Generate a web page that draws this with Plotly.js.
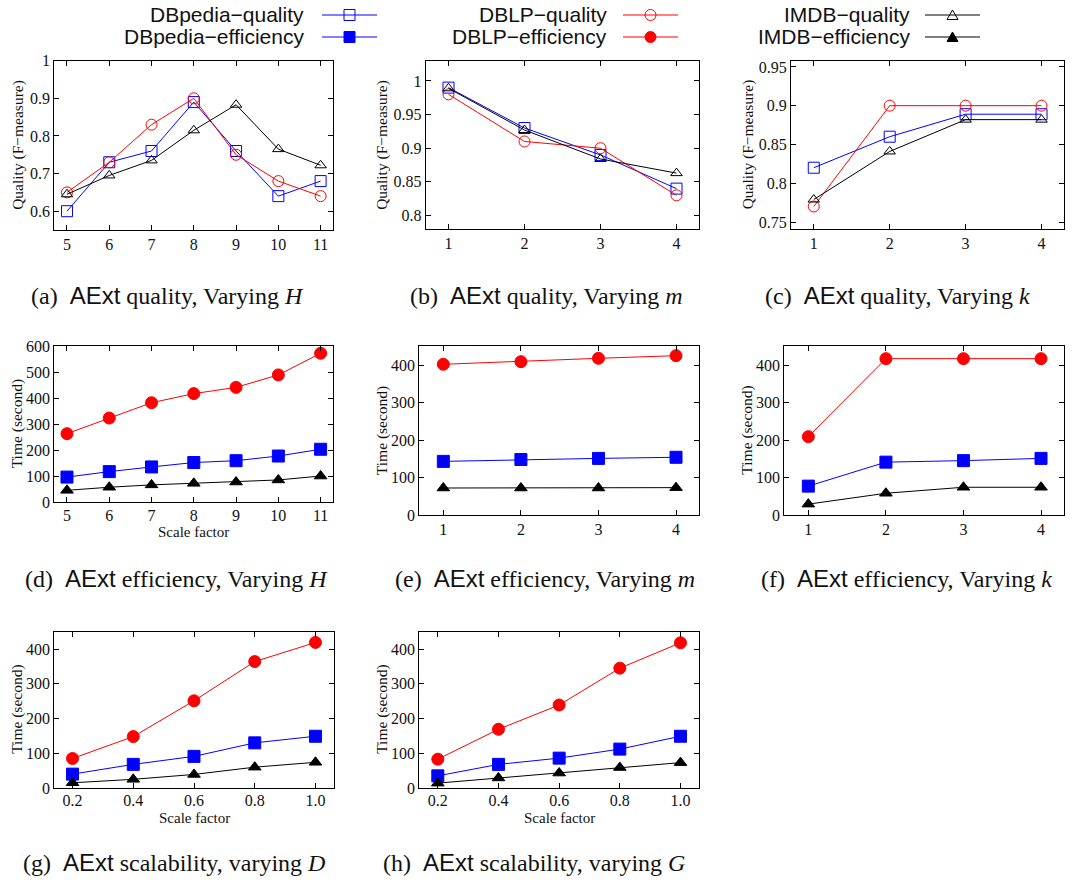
<!DOCTYPE html>
<html>
<head>
<meta charset="utf-8">
<script src="https://cdn.plot.ly/plotly-3.0.1.min.js"></script>
<style>
html,body{margin:0;padding:0;background:#fff;}
#chart{width:1073px;height:883px;}
</style>
</head>
<body>
<div id="chart"></div>
<script>
// ---------------- DATA ----------------
const H_vals = [5, 6, 7, 8, 9, 10, 11];
const m_vals = [1, 2, 3, 4];
const k_vals = [1, 2, 3, 4];
const scale_vals = [0.2, 0.4, 0.6, 0.8, 1.0];

// (a) AExt quality, varying H
const a_dbpedia = [0.60, 0.73, 0.76, 0.89, 0.76, 0.64, 0.68];
const a_dblp    = [0.65, 0.73, 0.83, 0.90, 0.75, 0.68, 0.64];
const a_imdb    = [0.645, 0.695, 0.735, 0.815, 0.883, 0.765, 0.722];
// (b) AExt quality, varying m
const b_dbpedia = [0.99, 0.93, 0.89, 0.84];
const b_dblp    = [0.98, 0.91, 0.90, 0.83];
const b_imdb    = [0.989, 0.927, 0.884, 0.863];
// (c) AExt quality, varying k
const c_dbpedia = [0.82, 0.86, 0.889, 0.889];
const c_dblp    = [0.77, 0.90, 0.90, 0.90];
const c_imdb    = [0.779, 0.841, 0.882, 0.882];
// (d) AExt efficiency, varying H
const d_dbpedia = [97, 118, 136, 153, 160, 178, 204];
const d_dblp    = [264, 324, 383, 418, 442, 490, 573];
const d_imdb    = [46, 58, 67, 73, 78, 86, 101];
// (e) AExt efficiency, varying m
const e_dbpedia = [143, 148, 151, 154];
const e_dblp    = [402, 409, 418, 425];
const e_imdb    = [72, 72, 72, 73];
// (f) AExt efficiency, varying k
const f_dbpedia = [77, 141, 145, 151];
const f_dblp    = [209, 417, 417, 417];
const f_imdb    = [29, 58, 74, 74];
// (g) AExt scalability, varying D
const g_dbpedia = [40, 68, 91, 130, 149];
const g_dblp    = [85, 148, 251, 364, 419];
const g_imdb    = [15, 25, 39, 60, 74];
// (h) AExt scalability, varying G
const h_dbpedia = [35, 68, 86, 112, 149];
const h_dblp    = [83, 169, 239, 345, 418];
const h_imdb    = [14, 29, 43, 59, 73];

// tick labels
const ticks_H = [5, 6, 7, 8, 9, 10, 11];
const ticks_H_text = ['5', '6', '7', '8', '9', '10', '11'];
const ticks_14 = [1, 2, 3, 4];
const ticks_14_text = ['1', '2', '3', '4'];
const ticks_scale = [0.2, 0.4, 0.6, 0.8, 1.0];
const ticks_scale_text = ['0.2', '0.4', '0.6', '0.8', '1.0'];
const ticks_qa = [0.6, 0.7, 0.8, 0.9, 1.0];
const ticks_qa_text = ['0.6', '0.7', '0.8', '0.9', '1'];
const ticks_qb = [0.8, 0.85, 0.9, 0.95, 1.0];
const ticks_qb_text = ['0.8', '0.85', '0.9', '0.95', '1'];
const ticks_qc = [0.75, 0.8, 0.85, 0.9, 0.95];
const ticks_qc_text = ['0.75', '0.8', '0.85', '0.9', '0.95'];
const ticks_t600 = [0, 100, 200, 300, 400, 500, 600];
const ticks_t600_text = ['0', '100', '200', '300', '400', '500', '600'];
const ticks_t400 = [0, 100, 200, 300, 400];
const ticks_t400_text = ['0', '100', '200', '300', '400'];

const legendNames = ['DBpedia\u2212quality', 'DBpedia\u2212efficiency',
                     'DBLP\u2212quality', 'DBLP\u2212efficiency',
                     'IMDB\u2212quality', 'IMDB\u2212efficiency'];

const captions = [
  '(a)', 'quality, Varying', 'H',
  '(b)', 'quality, Varying', 'm',
  '(c)', 'quality, Varying', 'k',
  '(d)', 'efficiency, Varying', 'H',
  '(e)', 'efficiency, Varying', 'm',
  '(f)', 'efficiency, Varying', 'k',
  '(g)', 'scalability, varying', 'D',
  '(h)', 'scalability, varying', 'G'
];

// ---------------- LAYOUT HELPERS ----------------
const W = 1073, Hh = 883;
const BLUE = '#0000ff', RED = '#ff0000', BLACK = '#000000';
const SERIF = 'Liberation Serif, Times New Roman, serif';
const SANS = 'Liberation Sans, Arial, sans-serif';
const px = v => v / W;
const py = v => 1 - v / Hh;

const panels = [
  {box:[54.3,333.3,60.7,230], x:H_vals, xr:[4.7,11.3], xt:ticks_H, xtt:ticks_H_text, yr:[0.55,1.0], yt:ticks_qa, ytt:ticks_qa_text,
   s:[a_dbpedia,a_dblp,a_imdb], open:true, ytitle:'Quality (F\u2212measure)', ytx:18.5, xtitle:null, cap:0, capx:167, capy:295},
  {box:[425.7,699.3,60.7,229], x:m_vals, xr:[0.7,4.3], xt:ticks_14, xtt:ticks_14_text, yr:[0.78,1.03], yt:ticks_qb, ytt:ticks_qb_text,
   s:[b_dbpedia,b_dblp,b_imdb], open:true, ytitle:'Quality (F\u2212measure)', ytx:382, xtitle:null, cap:1, capx:546, capy:295},
  {box:[791,1064.3,60.7,229], x:k_vals, xr:[0.7,4.3], xt:ticks_14, xtt:ticks_14_text, yr:[0.741,0.958], yt:ticks_qc, ytt:ticks_qc_text,
   s:[c_dbpedia,c_dblp,c_imdb], open:true, ytitle:'Quality (F\u2212measure)', ytx:747.5, xtitle:null, cap:2, capx:897, capy:295},
  {box:[54.3,333.3,346.3,502.3], x:H_vals, xr:[4.7,11.3], xt:ticks_H, xtt:ticks_H_text, yr:[0,600], yt:ticks_t600, ytt:ticks_t600_text,
   s:[d_dbpedia,d_dblp,d_imdb], open:false, ytitle:'Time (second)', ytx:17, xtitle:'Scale factor', xty:532, cap:3, capx:176, capy:578},
  {box:[419.3,699.3,346.3,515], x:m_vals, xr:[0.69,4.3], xt:ticks_14, xtt:ticks_14_text, yr:[0,450], yt:ticks_t400, ytt:ticks_t400_text,
   s:[e_dbpedia,e_dblp,e_imdb], open:false, ytitle:'Time (second)', ytx:381.5, xtitle:null, cap:4, capx:545, capy:578},
  {box:[784.3,1064.3,346.3,515], x:k_vals, xr:[0.69,4.3], xt:ticks_14, xtt:ticks_14_text, yr:[0,450], yt:ticks_t400, ytt:ticks_t400_text,
   s:[f_dbpedia,f_dblp,f_imdb], open:false, ytitle:'Time (second)', ytx:747, xtitle:null, cap:5, capx:906, capy:578},
  {box:[54.3,334.3,631.7,788], x:scale_vals, xr:[0.14,1.062], xt:ticks_scale, xtt:ticks_scale_text, yr:[0,450], yt:ticks_t400, ytt:ticks_t400_text,
   s:[g_dbpedia,g_dblp,g_imdb], open:false, ytitle:'Time (second)', ytx:17, xtitle:'Scale factor', xty:818, cap:6, capx:174, capy:862},
  {box:[419.3,699.3,631.7,788], x:scale_vals, xr:[0.139,1.062], xt:ticks_scale, xtt:ticks_scale_text, yr:[0,450], yt:ticks_t400, ytt:ticks_t400_text,
   s:[h_dbpedia,h_dblp,h_imdb], open:false, ytitle:'Time (second)', ytx:382, xtitle:'Scale factor', xty:818, cap:7, capx:534, capy:862}
];

const colors = [BLUE, RED, BLACK];
const symOpen = ['square-open', 'circle-open', 'triangle-up-open'];
const symFill = ['square', 'circle', 'triangle-up'];
const sizeOpen = [11, 11, 10];
const sizeFill = [12, 12, 11];

const traces = [];
const layout = {
  width: W, height: Hh,
  margin: {l:0, r:0, t:0, b:0},
  paper_bgcolor: '#fff', plot_bgcolor: '#fff',
  showlegend: false,
  annotations: [], shapes: []
};

const tickFont = {family: SERIF, size: 16, color: '#111'};
const titleFont = {family: SERIF, size: 15.5, color: '#111'};

panels.forEach((p, i) => {
  const n = i === 0 ? '' : String(i + 1);
  const [x0, x1, y0, y1] = p.box;
  layout['xaxis' + n] = {
    domain: [px(x0), px(x1)], range: p.xr, anchor: 'y' + n,
    tickmode: 'array', tickvals: p.xt, ticktext: p.xtt,
    ticks: 'inside', ticklen: 5, tickwidth: 1, tickcolor: '#000',
    showline: true, mirror: 'ticks', linecolor: '#000', linewidth: 1,
    showgrid: false, zeroline: false, tickfont: tickFont, fixedrange: true,
    ticklabelstandoff: p.xtitle ? -2 : 0
  };
  layout['yaxis' + n] = {
    domain: [py(y1), py(y0)], range: p.yr, anchor: 'x' + n,
    tickmode: 'array', tickvals: p.yt, ticktext: p.ytt,
    ticks: 'inside', ticklen: 5, tickwidth: 1, tickcolor: '#000',
    showline: true, mirror: 'ticks', linecolor: '#000', linewidth: 1,
    showgrid: false, zeroline: false, tickfont: tickFont, fixedrange: true
  };
  p.s.forEach((ys, j) => {
    traces.push({
      type: 'scatter', mode: 'lines+markers',
      x: p.x, y: ys, xaxis: 'x' + n, yaxis: 'y' + n,
      name: legendNames[j * 2 + (p.open ? 0 : 1)],
      line: {color: colors[j], width: 1},
      marker: {symbol: p.open ? symOpen[j] : symFill[j], size: p.open ? sizeOpen[j] : sizeFill[j],
               color: colors[j], line: {color: colors[j], width: 1}},
      cliponaxis: false
    });
  });
  // y title
  layout.annotations.push({
    xref: 'paper', yref: 'paper', x: px(p.ytx), y: py((y0 + y1) / 2),
    text: p.ytitle, textangle: -90, showarrow: false,
    xanchor: 'center', yanchor: 'middle', font: titleFont
  });
  if (p.xtitle) {
    layout.annotations.push({
      xref: 'paper', yref: 'paper', x: px((x0 + x1) / 2), y: py(p.xty),
      text: p.xtitle, showarrow: false, xanchor: 'center', yanchor: 'middle',
      font: {family: SERIF, size: 15, color: '#111'}
    });
  }
  const c = p.cap * 3;
  layout.annotations.push({
    xref: 'paper', yref: 'paper', x: px(p.capx), y: py(p.capy),
    text: captions[c] + '&nbsp; <span style="font-family:Liberation Sans">AExt</span> ' +
          captions[c + 1] + ' <i>' + captions[c + 2] + '</i>',
    showarrow: false, xanchor: 'center', yanchor: 'middle',
    font: {family: SERIF, size: 24, color: '#111'}
  });
});

// ---------------- LEGEND (drawn by hand: text left of sample) ----------------
const legendCols = [
  {textRight: 306, lx0: 322, lx1: 377, color: BLUE, sym: 'square'},
  {textRight: 609, lx0: 623, lx1: 678, color: RED, sym: 'circle'},
  {textRight: 912, lx0: 925, lx1: 980, color: BLACK, sym: 'triangle'}
];
const legendRows = [15, 37];
legendCols.forEach((col, ci) => {
  legendRows.forEach((ry, ri) => {
    const filled = ri === 1;
    layout.annotations.push({
      xref: 'paper', yref: 'paper', x: px(col.textRight), y: py(ry),
      text: legendNames[ci * 2 + ri], showarrow: false,
      xanchor: 'right', yanchor: 'middle',
      font: {family: SANS, size: 21, color: '#111'}
    });
    layout.shapes.push({
      type: 'line', xref: 'paper', yref: 'paper',
      x0: px(col.lx0), x1: px(col.lx1), y0: py(ry), y1: py(ry),
      line: {color: col.color, width: 1}
    });
    const cx = (col.lx0 + col.lx1) / 2;
    const fill = filled ? col.color : 'rgba(0,0,0,0)';
    if (col.sym === 'square') {
      layout.shapes.push({type: 'rect', xref: 'paper', yref: 'paper',
        x0: px(cx - 5.5), x1: px(cx + 5.5), y0: py(ry + 5.5), y1: py(ry - 5.5),
        fillcolor: fill, line: {color: col.color, width: 1}});
    } else if (col.sym === 'circle') {
      layout.shapes.push({type: 'circle', xref: 'paper', yref: 'paper',
        x0: px(cx - 5.5), x1: px(cx + 5.5), y0: py(ry + 5.5), y1: py(ry - 5.5),
        fillcolor: fill, line: {color: col.color, width: 1}});
    } else {
      const path = 'M ' + px(cx - 5.5) + ' ' + py(ry + 4.5) +
                   ' L ' + px(cx + 5.5) + ' ' + py(ry + 4.5) +
                   ' L ' + px(cx) + ' ' + py(ry - 5) + ' Z';
      layout.shapes.push({type: 'path', xref: 'paper', yref: 'paper', path: path,
        fillcolor: fill, line: {color: col.color, width: 1}});
    }
  });
});

Plotly.newPlot('chart', traces, layout, {displayModeBar: false, staticPlot: true});
</script>
</body>
</html>
